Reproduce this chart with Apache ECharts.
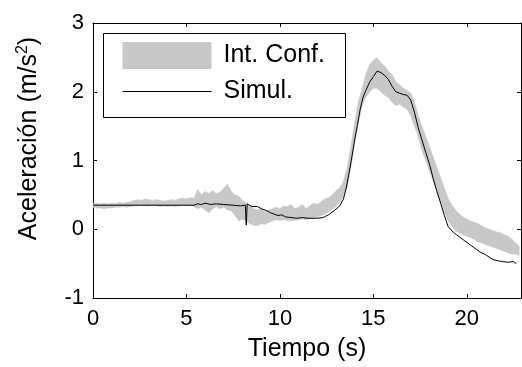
<!DOCTYPE html>
<html>
<head>
<meta charset="utf-8">
<script src="https://cdn.jsdelivr.net/npm/echarts@6/dist/echarts.min.js"></script>
<style>html,body{margin:0;padding:0;background:#fff;}#c{width:522px;height:367px;}</style>
</head>
<body>
<div id="c"></div>
<script>
// ---- data ----
const xTicks = [0, 5, 10, 15, 20];
const yTicks = [-1, 0, 1, 2, 3];

// Simulated acceleration (black line): time (s) and value (m/s^2)
const simTime = [0, 5.4, 5.6, 5.8, 6.0, 6.3, 6.6, 7.0, 7.5, 7.9, 8.15, 8.2, 8.25, 8.5, 8.8, 9.0, 9.3, 9.5, 9.7, 9.9,
  10.1, 10.3, 10.6, 10.9, 11.2, 11.5, 12.0, 12.3, 12.6, 12.9, 13.2, 13.4, 13.55, 13.7, 13.85, 14.0, 14.15, 14.3, 14.45, 14.6,
  14.8, 15.0, 15.2, 15.4, 15.6, 15.8, 16.0, 16.2, 16.4, 16.6, 16.8, 17.0, 17.2, 17.4, 17.6, 17.8, 18.0, 18.2, 18.4, 18.6,
  18.8, 19.0, 19.3, 19.6, 19.9, 20.2, 20.5, 20.7, 21.0, 21.4, 21.7, 21.9, 22.2, 22.5, 22.65];
const simValue = [0.35, 0.35, 0.37, 0.36, 0.38, 0.36, 0.37, 0.36, 0.35, 0.34, 0.35, 0.06, 0.37, 0.33, 0.33, 0.30, 0.27, 0.24, 0.22, 0.20,
  0.21, 0.18, 0.17, 0.16, 0.17, 0.16, 0.16, 0.17, 0.21, 0.27, 0.34, 0.44, 0.60, 0.82, 1.05, 1.30, 1.52, 1.75, 1.92, 2.02,
  2.14, 2.22, 2.30, 2.28, 2.24, 2.18, 2.08, 2.00, 1.98, 1.96, 1.95, 1.88, 1.70, 1.48, 1.30, 1.12, 0.95, 0.74, 0.55, 0.38,
  0.20, 0.04, -0.05, -0.11, -0.17, -0.23, -0.29, -0.33, -0.37, -0.44, -0.46, -0.47, -0.48, -0.47, -0.50];

// Confidence interval (grey band): time, lower and upper bounds
const bandTime = [0, 0.2, 0.4, 0.6, 0.8, 1.0, 1.2, 1.4, 1.6, 1.8, 2.0, 2.2, 2.4, 2.6, 2.8, 3.0, 3.2, 3.4, 3.6, 3.8,
  4.0, 4.2, 4.4, 4.6, 4.8, 5.0, 5.2, 5.4, 5.6, 5.8, 6.0, 6.2, 6.4, 6.6, 6.8, 7.0, 7.2, 7.4, 7.6, 7.8,
  8.0, 8.2, 8.4, 8.6, 8.8, 9.0, 9.2, 9.4, 9.6, 9.8, 10.0, 10.2, 10.4, 10.6, 10.8, 11.0, 11.2, 11.4, 11.6, 11.8,
  12.0, 12.2, 12.4, 12.6, 12.8, 13.0, 13.2, 13.4, 13.6, 13.8, 14.0, 14.2, 14.4, 14.6, 14.8, 15.0, 15.2, 15.4, 15.6, 15.8,
  16.0, 16.2, 16.4, 16.6, 16.8, 17.0, 17.2, 17.4, 17.6, 17.8, 18.0, 18.2, 18.4, 18.6, 18.8, 19.0, 19.2, 19.4, 19.6, 19.8,
  20.0, 20.2, 20.4, 20.6, 20.8, 21.0, 21.2, 21.4, 21.6, 21.8, 22.0, 22.2, 22.4, 22.6, 22.8];
const bandLower = [0.32, 0.31, 0.31, 0.30, 0.31, 0.31, 0.32, 0.32, 0.33, 0.32, 0.33, 0.34, 0.34, 0.35, 0.34, 0.34, 0.35, 0.34, 0.33, 0.34,
  0.33, 0.34, 0.33, 0.34, 0.35, 0.34, 0.35, 0.33, 0.30, 0.32, 0.28, 0.24, 0.30, 0.33, 0.30, 0.32, 0.28, 0.27, 0.20, 0.12,
  0.15, 0.12, 0.08, 0.06, 0.05, 0.08, 0.07, 0.10, 0.12, 0.14, 0.13, 0.14, 0.13, 0.12, 0.13, 0.14, 0.15, 0.14, 0.16, 0.17,
  0.18, 0.20, 0.22, 0.25, 0.30, 0.33, 0.40, 0.48, 0.62, 0.90, 1.25, 1.55, 1.80, 1.92, 2.00, 2.05, 2.05, 2.00, 1.95, 1.92,
  1.85, 1.80, 1.82, 1.78, 1.75, 1.65, 1.50, 1.35, 1.15, 1.00, 0.85, 0.70, 0.55, 0.40, 0.25, 0.12, 0.05, -0.02, -0.05, -0.08,
  -0.10, -0.12, -0.15, -0.18, -0.20, -0.22, -0.24, -0.26, -0.28, -0.30, -0.32, -0.34, -0.36, -0.36, -0.38];
const bandUpper = [0.37, 0.38, 0.37, 0.38, 0.37, 0.38, 0.37, 0.39, 0.38, 0.39, 0.40, 0.42, 0.43, 0.42, 0.44, 0.43, 0.42, 0.43, 0.42, 0.41,
  0.42, 0.43, 0.42, 0.44, 0.45, 0.44, 0.46, 0.45, 0.58, 0.50, 0.55, 0.52, 0.56, 0.52, 0.54, 0.60, 0.66, 0.55, 0.50, 0.48,
  0.42, 0.38, 0.34, 0.30, 0.28, 0.30, 0.26, 0.28, 0.30, 0.32, 0.30, 0.34, 0.33, 0.36, 0.30, 0.32, 0.36, 0.30, 0.34, 0.38,
  0.36, 0.40, 0.44, 0.46, 0.50, 0.56, 0.60, 0.70, 0.90, 1.20, 1.55, 1.85, 2.05, 2.25, 2.40, 2.45, 2.50, 2.42, 2.38, 2.30,
  2.25, 2.15, 2.10, 2.05, 2.02, 1.98, 1.85, 1.65, 1.50, 1.35, 1.20, 1.05, 0.90, 0.75, 0.60, 0.45, 0.35, 0.28, 0.22, 0.18,
  0.15, 0.12, 0.10, 0.08, 0.05, 0.02, 0.00, -0.02, -0.04, -0.05, -0.08, -0.10, -0.14, -0.20, -0.24];

const xName = 'Tiempo (s)';
const legendNames = ['Int. Conf.', 'Simul.'];

// ---- build options ----
const FONT = '"Liberation Sans", Arial, Helvetica, sans-serif';
const simData = simTime.map((t, i) => [t, simValue[i]]);
const bandData = bandTime.map((t, i) => [t, bandLower[i], bandUpper[i]]);
const GREY = '#c8c8c8';

const chart = echarts.init(document.getElementById('c'), null, { renderer: 'canvas' });

const commonX = {
  type: 'value', min: 0, max: 22.9, interval: 5,
  axisLine: { show: true, onZero: false, lineStyle: { color: '#000', width: 1 } },
  axisTick: { show: true, inside: true, length: 4, lineStyle: { color: '#000' }, customValues: xTicks },
  splitLine: { show: false }
};
const commonY = {
  type: 'value', min: -1, max: 3, interval: 1,
  axisLine: { show: true, onZero: false, lineStyle: { color: '#000', width: 1 } },
  axisTick: { show: true, inside: true, length: 4, lineStyle: { color: '#000' }, customValues: yTicks },
  splitLine: { show: false }
};

chart.setOption({
  animation: false,
  backgroundColor: '#fff',
  grid: { left: 93, right: 1, top: 23, bottom: 65, containLabel: false },
  xAxis: [
    Object.assign({}, commonX, {
      position: 'bottom',
      name: xName, nameLocation: 'middle', nameGap: 39,
      nameTextStyle: { fontFamily: FONT, fontSize: 25, color: '#000' },
      axisLabel: { show: true, customValues: xTicks, margin: 10, fontFamily: FONT, fontSize: 22, color: '#000' }
    }),
    Object.assign({}, commonX, { position: 'top', axisLabel: { show: false } })
  ],
  yAxis: [
    Object.assign({}, commonY, {
      position: 'left',
      name: '{a|Aceleración (m/s}{s|2}{a|)}', nameLocation: 'middle', nameGap: 50,
      nameTextStyle: {
        color: '#000', padding: [0, 0, 0, 44],
        rich: {
          a: { fontFamily: FONT, fontSize: 25, color: '#000', lineHeight: 28 },
          s: { fontFamily: FONT, fontSize: 16, color: '#000', lineHeight: 28, verticalAlign: 'top', padding: [0, 0, 12, 0] }
        }
      },
      axisLabel: { show: true, customValues: yTicks, margin: 9, fontFamily: FONT, fontSize: 22, color: '#000' }
    }),
    Object.assign({}, commonY, { position: 'right', axisLabel: { show: false } })
  ],
  legend: {
    orient: 'vertical', left: 122, top: 42, padding: 0, z: 20,
    itemWidth: 89, itemHeight: 27, itemGap: 10,
    data: [
      { name: legendNames[0], icon: 'rect' },
      { name: legendNames[1],
        itemStyle: { color: 'rgba(0,0,0,0)', borderColor: 'rgba(0,0,0,0)', borderWidth: 0, opacity: 0 },
        lineStyle: { color: '#000', width: 1, opacity: 1 } }
    ],
    textStyle: { fontFamily: FONT, fontSize: 25, color: '#000', padding: [0, 0, 0, 7] },
    selectedMode: false
  },
  graphic: [{
    type: 'rect', left: 103, top: 33, z: 1,
    shape: { width: 242, height: 84 },
    style: { fill: '#fff', stroke: '#000', lineWidth: 1 }
  }],
  series: [
    {
      name: legendNames[0], type: 'custom', xAxisIndex: 0, yAxisIndex: 0,
      data: bandData, encode: { x: 0, y: [1, 2] },
      itemStyle: { color: GREY }, z: 2, silent: true, clip: true,
      renderItem: function (params, api) {
        if (params.dataIndex !== 0) return null;
        const top = [], bottom = [];
        for (let i = 0; i < bandData.length; i++) {
          top.push(api.coord([bandData[i][0], bandData[i][2]]));
          bottom.push(api.coord([bandData[i][0], bandData[i][1]]));
        }
        const pts = top.concat(bottom.reverse());
        return { type: 'polygon', shape: { points: pts }, style: { fill: GREY, stroke: GREY, lineWidth: 0.6 } };
      }
    },
    {
      name: legendNames[1], type: 'line', xAxisIndex: 0, yAxisIndex: 0,
      data: simData, symbol: 'none', showSymbol: false, z: 3,
      lineStyle: { color: '#000', width: 1 }, itemStyle: { color: '#000' }
    }
  ]
});
</script>
</body>
</html>
